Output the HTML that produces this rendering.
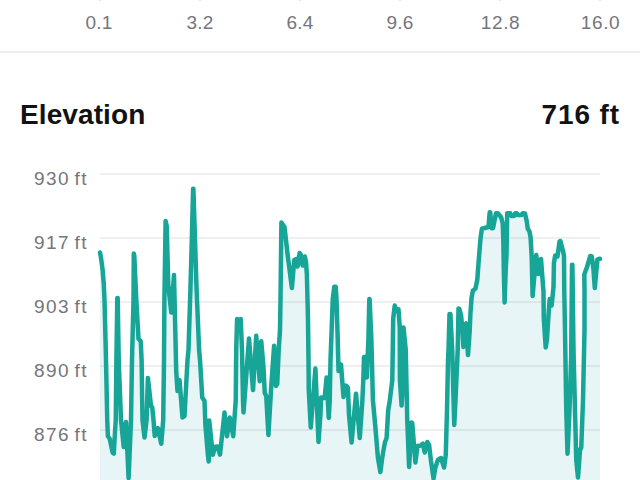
<!DOCTYPE html>
<html>
<head>
<meta charset="utf-8">
<style>
html,body{margin:0;padding:0;background:#fff;}
body{width:640px;height:480px;overflow:hidden;position:relative;font-family:"Liberation Sans",sans-serif;}
.xl{position:absolute;top:11.5px;width:60px;margin-left:-30px;text-align:center;font-size:19px;line-height:22px;color:#75757d;letter-spacing:0.2px;}
.tick{position:absolute;top:0;width:2px;height:1px;background:#e4e4e6;margin-left:-1px;}
.sep{position:absolute;left:0;top:51px;width:640px;height:2px;background:#eeeef0;}
.title{position:absolute;top:98.5px;font-size:28px;line-height:32px;font-weight:bold;color:#121214;white-space:nowrap;}
.yl{position:absolute;right:552px;width:80px;text-align:right;font-size:19px;line-height:22px;color:#75757d;letter-spacing:1.5px;word-spacing:-2.5px;white-space:nowrap;}
.grid{position:absolute;left:100px;width:500px;height:2px;background:#efeff1;}
svg{position:absolute;left:0;top:0;}
</style>
</head>
<body>
<div class="tick" style="left:100px"></div><div class="tick" style="left:200px"></div><div class="tick" style="left:300px"></div><div class="tick" style="left:400px"></div><div class="tick" style="left:500px"></div><div class="tick" style="left:600px"></div>
<div class="xl" style="left:99px">0.1</div>
<div class="xl" style="left:200px">3.2</div>
<div class="xl" style="left:300px">6.4</div>
<div class="xl" style="left:400px">9.6</div>
<div class="xl" style="left:500.5px;letter-spacing:0.6px">12.8</div>
<div class="xl" style="left:600.5px;letter-spacing:0.6px">16.0</div>
<div class="sep"></div>
<div class="title" style="left:20px;letter-spacing:0.1px">Elevation</div>
<div class="title" style="right:20px;letter-spacing:0.9px">716 ft</div>
<div class="grid" style="top:173px"></div>
<div class="grid" style="top:237px"></div>
<div class="grid" style="top:301px"></div>
<div class="grid" style="top:365px"></div>
<div class="grid" style="top:429px"></div>
<div class="yl" style="top:167.5px">930 ft</div>
<div class="yl" style="top:231.5px">917 ft</div>
<div class="yl" style="top:295.5px">903 ft</div>
<div class="yl" style="top:359.5px">890 ft</div>
<div class="yl" style="top:423.5px">876 ft</div>
<svg width="640" height="480" viewBox="0 0 640 480">
<!--CHART-->
<path d="M100,252.5 L100.75,256.25 L102.5,268.75 L103.75,283.75 L104.5,300 L106,360 L107.25,420 L107.9,436.25 L109.75,438.75 L112.6,452.5 L113.8,453.5 L114.75,436 L115.75,420 L116.4,360 L117.3,298 L117.7,298 L118.7,360 L121,420 L123.75,447 L126,422 L128.6,478 L131,420 L132,360 L133.5,300 L133.8,253.5 L134.3,256 L136.3,300 L138.5,338.75 L140.75,341.25 L141.6,360 L142.5,420 L144.5,437.5 L146.6,420 L147.9,378 L151,406 L152.25,407.5 L153.5,420 L154.75,436 L157.9,428 L161.25,443.75 L163.2,420 L164,360 L164.4,300 L165.6,221 L166.7,226 L168.3,285 L171.25,312.5 L174,275 L176.25,372 L177.5,391 L179.5,380 L182.5,417.5 L184.5,416 L187.5,360 L188.5,350 L190.4,290 L191.8,240 L193.1,188.8 L193.4,188.8 L195,240 L196.6,290 L199.1,350 L200,360 L202.25,397.5 L204.5,401 L205.4,425 L207.9,455 L208.7,461.5 L209.2,420.6 L212.8,454.8 L215.2,446.8 L217.9,446.6 L220,454.6 L224.5,412.5 L227,436.2 L229.75,417.5 L233.25,436.2 L235.75,400 L236.2,350 L237.1,319 L238.9,320.2 L240.7,319 L242,350 L243,400 L243.5,412.5 L249,338.5 L253,390 L256.25,335.8 L259.75,381.25 L261.25,341.25 L263.5,367.5 L264.75,393 L266.25,396 L268.4,435 L271,390 L274.1,345.8 L275.9,386 L277.25,383.75 L278.75,348.75 L280,330 L280.5,300 L281.4,222.5 L284.5,227 L287.5,253.75 L291.9,288 L294.2,260 L296.2,259 L297.6,266.5 L299.6,253 L301,255 L302.6,265.5 L304.8,256.5 L306,262 L306.9,275 L308,320 L308.5,360 L308.75,390 L310.75,427.5 L315.4,368.5 L318.5,442 L320.4,415 L321.1,397.5 L324.6,398 L326.6,377.5 L328.75,418 L329.75,400 L330.5,360 L331.25,340 L332.75,299 L334.3,286.8 L335.7,286.8 L336.5,299 L337.75,340 L338.5,371 L341,364.5 L343.5,397 L346,385.6 L347.9,387.5 L349,415 L351.6,442.5 L356,393.75 L359.75,438 L362.25,402.5 L363.4,377.5 L364,357 L365.3,357 L366.8,377.5 L368.4,340 L369.3,299 L369.6,299 L371.4,340 L372.9,400 L375.4,427.5 L377.9,457.5 L380.4,472 L382.25,457.5 L383.5,450 L385,442 L386.6,438 L388.2,410 L389.6,402 L392.3,380 L393.2,318.5 L394.75,305.6 L396.6,311.25 L398.5,309.4 L399.75,327.5 L399.9,380 L401.6,405.6 L403,380 L403.5,327.5 L405.75,350 L407.25,420 L409.1,467 L410.4,445 L411.4,422.5 L412.2,423 L415.4,462.5 L417.5,446 L421,445.5 L422.9,443.75 L424.75,452.5 L427.25,442 L429.1,445 L431,461 L433.5,478.5 L435.4,467.5 L437.9,460 L441,458 L444.1,467.5 L445.75,455 L447,410 L448,360 L448.5,350 L449.5,314 L450.4,314 L452.25,350 L453,380 L454.25,425 L455.5,400 L457.7,350 L458.5,308.5 L459.3,308.8 L461,315 L462.25,327.5 L463.4,347 L464.6,325 L466,323.5 L468,355 L469.75,330 L470.4,313.75 L471.6,297.5 L472.9,290.6 L475.4,288.75 L477.25,280 L478.75,260 L480.6,237.5 L481.9,228.75 L488.5,227 L489.7,212.2 L490.2,212.2 L491.8,228.3 L493,228 L496,213.2 L497.8,213.2 L501.25,217.5 L502.75,223.75 L503.3,240 L503.8,270 L504.6,302.5 L505.7,270 L506.5,255 L507.2,213.2 L510.3,213.2 L511.3,216 L514,216 L515.3,213.2 L516.8,213.2 L517.6,215 L521.6,215 L522.8,213.2 L525,213.5 L526.9,222 L527.75,228.75 L529.4,231.25 L530.6,237.5 L531.7,257 L532.6,296 L534.5,274 L536.25,255 L538.25,274 L541,259 L543.5,292 L543.75,317.5 L545.7,347.5 L546.9,340 L548.75,311 L549.7,299 L551.6,305.5 L552.7,295 L553.5,287 L553.9,263 L555.2,255.5 L557.5,256.5 L559.5,241.5 L560.4,241 L563,251 L564,256 L564.3,292 L565,330 L566.25,410 L567.5,453.75 L569.5,410 L571.2,355 L572,264.8 L572.4,264.8 L573.5,350 L575,410 L576.25,460 L578,477.5 L580,450 L581.25,447.5 L583,400 L584.5,330 L584.5,292 L584.3,274.5 L587,267 L590.3,256 L591.8,256.5 L593.5,269.5 L594.8,288 L596.4,270 L597.4,259.5 L600,258.75 L600,480 L100,480 Z" fill="#19a3a8" fill-opacity="0.105" stroke="none"/>
<path d="M100,252.5 L100.75,256.25 L102.5,268.75 L103.75,283.75 L104.5,300 L106,360 L107.25,420 L107.9,436.25 L109.75,438.75 L112.6,452.5 L113.8,453.5 L114.75,436 L115.75,420 L116.4,360 L117.3,298 L117.7,298 L118.7,360 L121,420 L123.75,447 L126,422 L128.6,478 L131,420 L132,360 L133.5,300 L133.8,253.5 L134.3,256 L136.3,300 L138.5,338.75 L140.75,341.25 L141.6,360 L142.5,420 L144.5,437.5 L146.6,420 L147.9,378 L151,406 L152.25,407.5 L153.5,420 L154.75,436 L157.9,428 L161.25,443.75 L163.2,420 L164,360 L164.4,300 L165.6,221 L166.7,226 L168.3,285 L171.25,312.5 L174,275 L176.25,372 L177.5,391 L179.5,380 L182.5,417.5 L184.5,416 L187.5,360 L188.5,350 L190.4,290 L191.8,240 L193.1,188.8 L193.4,188.8 L195,240 L196.6,290 L199.1,350 L200,360 L202.25,397.5 L204.5,401 L205.4,425 L207.9,455 L208.7,461.5 L209.2,420.6 L212.8,454.8 L215.2,446.8 L217.9,446.6 L220,454.6 L224.5,412.5 L227,436.2 L229.75,417.5 L233.25,436.2 L235.75,400 L236.2,350 L237.1,319 L238.9,320.2 L240.7,319 L242,350 L243,400 L243.5,412.5 L249,338.5 L253,390 L256.25,335.8 L259.75,381.25 L261.25,341.25 L263.5,367.5 L264.75,393 L266.25,396 L268.4,435 L271,390 L274.1,345.8 L275.9,386 L277.25,383.75 L278.75,348.75 L280,330 L280.5,300 L281.4,222.5 L284.5,227 L287.5,253.75 L291.9,288 L294.2,260 L296.2,259 L297.6,266.5 L299.6,253 L301,255 L302.6,265.5 L304.8,256.5 L306,262 L306.9,275 L308,320 L308.5,360 L308.75,390 L310.75,427.5 L315.4,368.5 L318.5,442 L320.4,415 L321.1,397.5 L324.6,398 L326.6,377.5 L328.75,418 L329.75,400 L330.5,360 L331.25,340 L332.75,299 L334.3,286.8 L335.7,286.8 L336.5,299 L337.75,340 L338.5,371 L341,364.5 L343.5,397 L346,385.6 L347.9,387.5 L349,415 L351.6,442.5 L356,393.75 L359.75,438 L362.25,402.5 L363.4,377.5 L364,357 L365.3,357 L366.8,377.5 L368.4,340 L369.3,299 L369.6,299 L371.4,340 L372.9,400 L375.4,427.5 L377.9,457.5 L380.4,472 L382.25,457.5 L383.5,450 L385,442 L386.6,438 L388.2,410 L389.6,402 L392.3,380 L393.2,318.5 L394.75,305.6 L396.6,311.25 L398.5,309.4 L399.75,327.5 L399.9,380 L401.6,405.6 L403,380 L403.5,327.5 L405.75,350 L407.25,420 L409.1,467 L410.4,445 L411.4,422.5 L412.2,423 L415.4,462.5 L417.5,446 L421,445.5 L422.9,443.75 L424.75,452.5 L427.25,442 L429.1,445 L431,461 L433.5,478.5 L435.4,467.5 L437.9,460 L441,458 L444.1,467.5 L445.75,455 L447,410 L448,360 L448.5,350 L449.5,314 L450.4,314 L452.25,350 L453,380 L454.25,425 L455.5,400 L457.7,350 L458.5,308.5 L459.3,308.8 L461,315 L462.25,327.5 L463.4,347 L464.6,325 L466,323.5 L468,355 L469.75,330 L470.4,313.75 L471.6,297.5 L472.9,290.6 L475.4,288.75 L477.25,280 L478.75,260 L480.6,237.5 L481.9,228.75 L488.5,227 L489.7,212.2 L490.2,212.2 L491.8,228.3 L493,228 L496,213.2 L497.8,213.2 L501.25,217.5 L502.75,223.75 L503.3,240 L503.8,270 L504.6,302.5 L505.7,270 L506.5,255 L507.2,213.2 L510.3,213.2 L511.3,216 L514,216 L515.3,213.2 L516.8,213.2 L517.6,215 L521.6,215 L522.8,213.2 L525,213.5 L526.9,222 L527.75,228.75 L529.4,231.25 L530.6,237.5 L531.7,257 L532.6,296 L534.5,274 L536.25,255 L538.25,274 L541,259 L543.5,292 L543.75,317.5 L545.7,347.5 L546.9,340 L548.75,311 L549.7,299 L551.6,305.5 L552.7,295 L553.5,287 L553.9,263 L555.2,255.5 L557.5,256.5 L559.5,241.5 L560.4,241 L563,251 L564,256 L564.3,292 L565,330 L566.25,410 L567.5,453.75 L569.5,410 L571.2,355 L572,264.8 L572.4,264.8 L573.5,350 L575,410 L576.25,460 L578,477.5 L580,450 L581.25,447.5 L583,400 L584.5,330 L584.5,292 L584.3,274.5 L587,267 L590.3,256 L591.8,256.5 L593.5,269.5 L594.8,288 L596.4,270 L597.4,259.5 L600,258.75" fill="none" stroke="#17a598" stroke-width="4.5" stroke-linejoin="round" stroke-linecap="round"/>
<!--/CHART-->
</svg>
</body>
</html>
